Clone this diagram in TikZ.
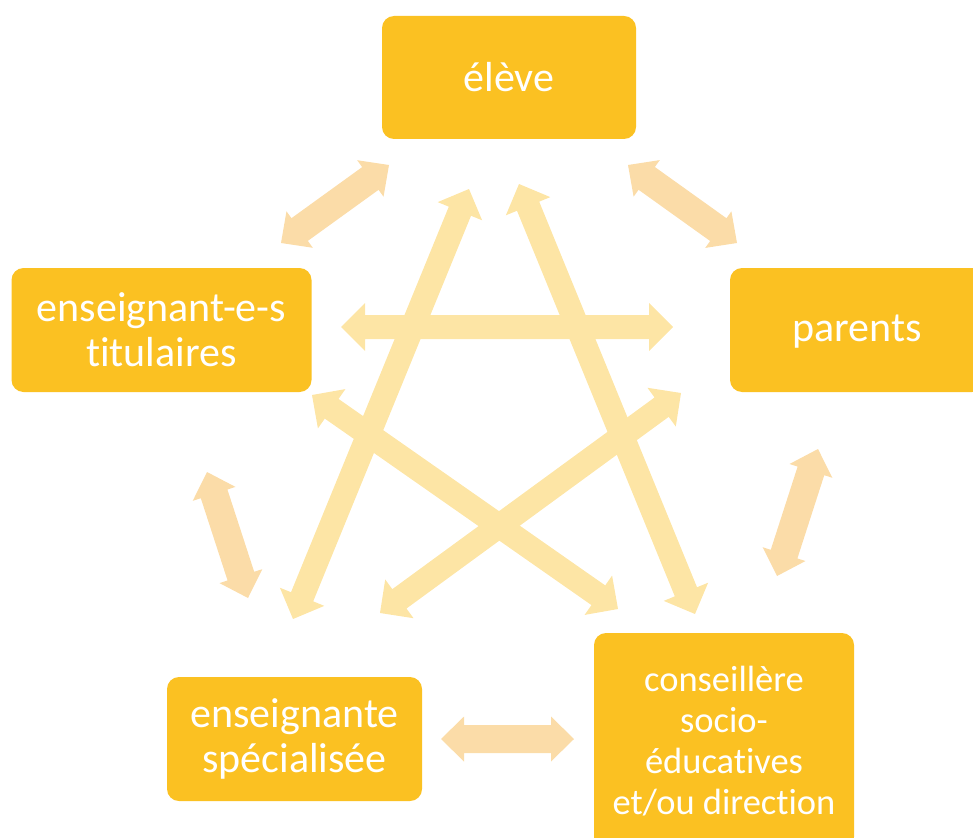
\documentclass[tikz,border=0pt]{standalone}
\usepackage{fontspec}
\setmainfont{Carlito}[Ligatures={NoCommon,NoContextual}]
\usetikzlibrary{calc}
\definecolor{boxgold}{RGB}{251,193,34}
\definecolor{peach}{RGB}{251,220,168}
\definecolor{paleyellow}{RGB}{253,229,165}
\newcommand\dblarrow[6]{%
  \fill[#6] (#1) -- ($(#1)!#5!(#2)!#4!90:(#2)$) -- ($(#1)!#5!(#2)!#3!90:(#2)$)
    -- ($(#2)!#5!(#1)!#3!-90:(#1)$) -- ($(#2)!#5!(#1)!#4!-90:(#1)$) -- (#2)
    -- ($(#2)!#5!(#1)!#4!90:(#1)$) -- ($(#2)!#5!(#1)!#3!90:(#1)$)
    -- ($(#1)!#5!(#2)!#3!-90:(#2)$) -- ($(#1)!#5!(#2)!#4!-90:(#2)$) -- cycle;}
\tikzset{
  role/.style={fill=boxgold, rounded corners=12pt, text=white, align=center,
    inner sep=0pt, font=\fontsize{42}{45}\selectfont},
  outerarrow/.style={fill=peach},
  innerarrow/.style={fill=paleyellow}
}
\begin{document}
\begin{tikzpicture}[x=1pt,y=-1pt]
\useasboundingbox (0,0) rectangle (973,837);
\clip (0,0) rectangle (973,837);
% boxes
\node[role, minimum width=254pt, minimum height=123pt] (eleve) at (509,77.5) {élève};
\node[role, minimum width=254pt, minimum height=124pt, text height=32pt, text depth=10pt] (parents) at (857,330) {parents};
\node[role, minimum width=300pt, minimum height=124pt] (titul) at (161.5,330) {enseignant-e-s\\titulaires};
\node[role, minimum width=255pt, minimum height=124pt] (spec) at (294.5,739) {enseignante\\spécialisée};
\node[role, minimum width=260pt, minimum height=216pt, font=\fontsize{36.5}{41}\selectfont] (cons) at (724,741) {conseillère\\socio-\\éducatives\\et/ou direction};
% arrow end points
\coordinate (o1a) at (281,243); \coordinate (o1b) at (389,165);
\coordinate (o2a) at (628,165); \coordinate (o2b) at (737,243);
\coordinate (o3a) at (818,449); \coordinate (o3b) at (777,576);
\coordinate (o4a) at (574,739); \coordinate (o4b) at (441,739);
\coordinate (o5a) at (248,598); \coordinate (o5b) at (207,472);
\coordinate (i1a) at (341,327); \coordinate (i1b) at (673,327);
\coordinate (i2a) at (469,189); \coordinate (i2b) at (293,619);
\coordinate (i3a) at (519,184); \coordinate (i3b) at (695,614);
\coordinate (i4a) at (312,395); \coordinate (i4b) at (618,609);
\coordinate (i5a) at (681,393); \coordinate (i5b) at (380,613);
% outer arrows
\dblarrow{o1a}{o1b}{14pt}{22.5pt}{23pt}{outerarrow}
\dblarrow{o2a}{o2b}{14pt}{22.5pt}{23pt}{outerarrow}
\dblarrow{o3a}{o3b}{14pt}{22.5pt}{23pt}{outerarrow}
\dblarrow{o4a}{o4b}{14pt}{22.5pt}{23pt}{outerarrow}
\dblarrow{o5a}{o5b}{14pt}{22.5pt}{23pt}{outerarrow}
% inner star arrows
\dblarrow{i1a}{i1b}{12pt}{24pt}{24pt}{innerarrow}
\dblarrow{i2a}{i2b}{12pt}{24pt}{24pt}{innerarrow}
\dblarrow{i3a}{i3b}{12pt}{24pt}{24pt}{innerarrow}
\dblarrow{i4a}{i4b}{12pt}{24pt}{24pt}{innerarrow}
\dblarrow{i5a}{i5b}{12pt}{24pt}{24pt}{innerarrow}
\end{tikzpicture}
\end{document}
